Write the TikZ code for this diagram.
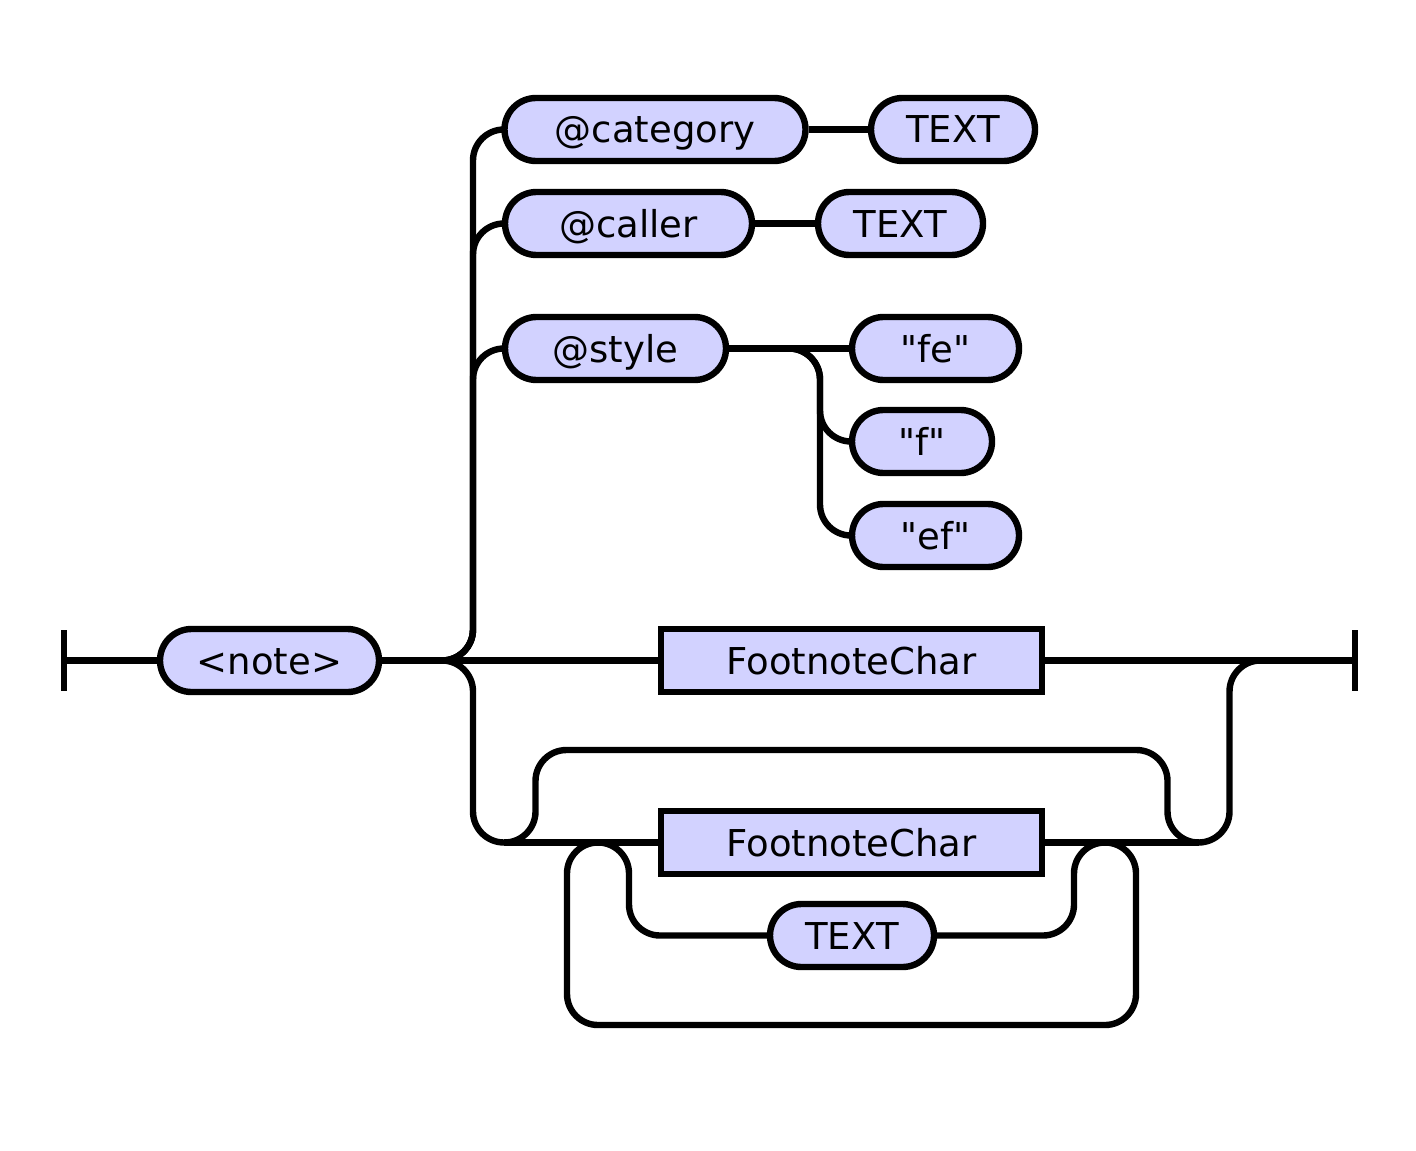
\documentclass[tikz,border=0pt]{standalone}
\usepackage{fontspec}
\newfontfamily\railfont{DejaVu Sans}
\definecolor{boxfill}{RGB}{210,210,255}
\begin{document}
\begin{tikzpicture}[x=0.5pt,y=-0.5pt,
  rail/.style={line width=3.2pt, rounded corners=15.5pt},
  basebox/.style={draw, line width=3.2pt, fill=boxfill, minimum height=31.5pt, inner sep=0pt,
    text height=13.5pt, text depth=0pt, font=\railfont\fontsize{18.5pt}{22pt}\selectfont},
  term/.style={basebox, rounded corners=15.75pt},
  nonterm/.style={basebox, sharp corners}]
\useasboundingbox (0,0) rectangle (1416,1150);

% nodes
\node[term, minimum width=109.5pt] (note) at (269.5,660.5) {<note>};
\node[term, minimum width=150.5pt] (cat) at (655,129.5) {@category};
\node[term, minimum width=82pt] (t1) at (953,129.5) {TEXT};
\node[term, minimum width=123.5pt] (caller) at (628.5,223.5) {@caller};
\node[term, minimum width=82.5pt] (t2) at (900.5,223.5) {TEXT};
\node[term, minimum width=110.5pt] (style) at (615.5,348.5) {@style};
\node[term, minimum width=83.5pt] (fe) at (935.5,348.5) {"fe"};
\node[term, minimum width=70pt] (f) at (922,441.5) {"f"};
\node[term, minimum width=83.5pt] (ef) at (935.5,535.5) {"ef"};
\node[nonterm, minimum width=190.5pt] (fc1) at (851.5,660.5) {FootnoteChar};
\node[nonterm, minimum width=190.5pt] (fc2) at (851.5,842.5) {FootnoteChar};
\node[term, minimum width=82pt] (t3) at (852,935.5) {TEXT};

% coordinates
\coordinate (s) at (64,660.5);
\coordinate (e) at (1355,660.5);
\coordinate (j1) at (442,660.5);
\coordinate (j2) at (1260.5,660.5);
\coordinate (jl) at (504,842.5);
\coordinate (jr) at (1198.5,842.5);
\coordinate (js) at (789,348.5);
\coordinate (la) at (598,842.5);
\coordinate (ra) at (1105,842.5);

% end bars
\draw[line width=3.2pt] ([yshift=15.25pt]s) -- ([yshift=-15.25pt]s);
\draw[line width=3.2pt] ([yshift=15.25pt]e) -- ([yshift=-15.25pt]e);

% main line
\draw[rail] (s) -- (note.west);
\draw[rail] (note.east) -- (fc1.west);
\draw[rail] (fc1.east) -- (e);

% upper choices
\draw[rail] (j1) -- (473,660.5) -- (473,129.5) -- (cat.west);
\draw[rail] (j1) -- (473,660.5) -- (473,223.5) -- (caller.west);
\draw[rail] (j1) -- (473,660.5) -- (473,348.5) -- (style.west);
\draw[rail] (cat.east) -- (t1.west);
\draw[rail] (caller.east) -- (t2.west);
\draw[rail] (style.east) -- (fe.west);
\draw[rail] (js) -- (820,348.5) -- (820,441.5) -- (f.west);
\draw[rail] (js) -- (820,348.5) -- (820,535.5) -- (ef.west);

% lower branch
\draw[rail] (j1) -- (473,660.5) -- (473,842.5) -- (jl);
\draw[rail] (jl) -- (fc2.west);
\draw[rail] (fc2.east) -- (jr);
\draw[rail] (jr) -- (1229.5,842.5) -- (1229.5,660.5) -- (j2);
\draw[rail] (jl) -- (535.5,842.5) -- (535.5,750) -- (1167.5,750) -- (1167.5,842.5) -- (jr);

% repeat loop
\draw[rail] (la) -- (629,842.5) -- (629,935.5) -- (t3.west);
\draw[rail] (t3.east) -- (1074,935.5) -- (1074,842.5) -- (ra);
\draw[rail] (la) -- (567,842.5) -- (567,1025) -- (1136,1025) -- (1136,842.5) -- (ra);
\end{tikzpicture}
\end{document}
